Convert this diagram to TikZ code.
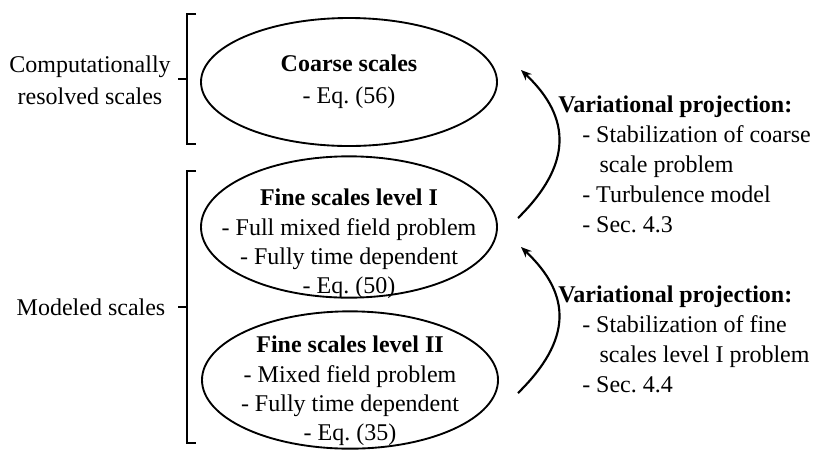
\documentclass[tikz,border=0pt]{standalone}
\usepackage{fontspec}
\setmainfont{Liberation Serif}
\usetikzlibrary{shapes.geometric,arrows.meta}
\begin{document}
\begin{tikzpicture}[x=0.75pt,y=-0.75pt,
  scaleell/.style={draw,ellipse,line width=1.4pt,minimum width=222pt,inner sep=0pt},
  txt/.style={align=center,font=\fontsize{18}{22}\selectfont,inner sep=0pt},
  rtxt/.style={align=left,anchor=north west,font=\fontsize{18}{22.5}\selectfont,inner sep=0pt},
  brk/.style={line width=2.2pt},
  proj/.style={line width=1.6pt,-{Stealth[length=8pt,width=6.5pt]}}]
\useasboundingbox (0,0) rectangle (831,451);
% ellipses
\node[scaleell,minimum height=96pt] (coarse) at (349,82) {};
\node[scaleell,minimum height=106pt] (fineI) at (349,227) {};
\node[scaleell,minimum height=103pt] (fineII) at (350,380) {};
% ellipse texts
\node[txt] (coarsetxt) at (349,82) {\textbf{Coarse scales}\\[2pt]- Eq.\ (56)};
\node[txt] (fineItxt) at (349,244) {\textbf{Fine scales level I}\\- Full mixed field problem\\- Fully time dependent\\- Eq.\ (50)};
\node[txt] (fineIItxt) at (350,391) {\textbf{Fine scales level II}\\- Mixed field problem\\- Fully time dependent\\- Eq.\ (35)};
% brackets
\draw[brk] (196,14) -- (187,14) -- (187,144) -- (196,144);
\draw[brk] (187,79) -- (178,79);
\draw[brk] (196,171) -- (187,171) -- (187,443) -- (196,443);
\draw[brk] (187,307) -- (178,307);
% left labels
\node[txt] (resolved) at (90,80) {Computationally\\[2pt]resolved scales};
\node[txt] (modeled) at (91,307) {Modeled scales};
% arrows
\coordinate (a1s) at (518,218);
\coordinate (a1e) at (521,70);
\coordinate (a2s) at (518,393);
\coordinate (a2e) at (521,247);
\draw[proj] (a1s) .. controls (572,165) and (572,118) .. (a1e);
\draw[proj] (a2s) .. controls (572,340) and (572,295) .. (a2e);
% right texts
\node[rtxt] (proj1) at (558,95.5) {\textbf{Variational projection:}\\
\hspace*{18pt}- Stabilization of coarse\\
\hspace*{31pt}scale problem\\
\hspace*{18pt}- Turbulence model\\
\hspace*{18pt}- Sec.\ 4.3};
\node[rtxt] (proj2) at (558,285.5) {\textbf{Variational projection:}\\
\hspace*{18pt}- Stabilization of fine\\
\hspace*{31pt}scales level I problem\\
\hspace*{18pt}- Sec.\ 4.4};
\end{tikzpicture}
\end{document}
